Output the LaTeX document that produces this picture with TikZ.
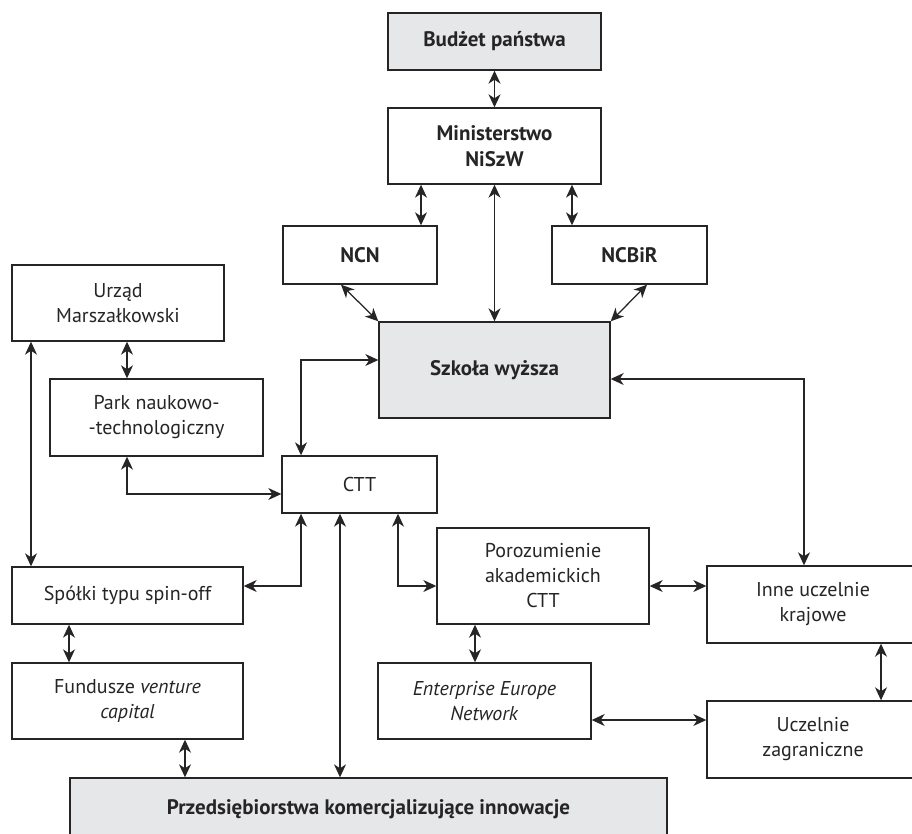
\documentclass[tikz,border=0pt]{standalone}
\usepackage{fontspec}
\setmainfont{PT Sans}
\usetikzlibrary{arrows.meta}
\definecolor{boxgray}{HTML}{E6E7E8}
\definecolor{ink}{HTML}{262425}
\begin{document}
\begin{tikzpicture}[x=1pt,y=-1pt,
  bx/.style={draw=ink,line width=1.4pt,inner sep=2pt,align=center,
    font=\fontsize{20}{25}\selectfont,text=ink},
  gbx/.style={bx,fill=boxgray},
  bold/.style={font=\fontsize{21}{26}\selectfont\bfseries},
  arr/.style={ink,line width=1.25pt,{Stealth[length=13pt,width=12pt,inset=4pt]}-{Stealth[length=13pt,width=12pt,inset=4pt]}}]
\clip (0,0) rectangle (912,834);
\fill[white] (0,0) rectangle (912,834);
\node[gbx,bold,minimum width=213pt,minimum height=57pt] (bud) at (494.5,41.5) {Budżet państwa};
\node[bx,bold,minimum width=213pt,minimum height=76pt] (min) at (494.5,146) {Ministerstwo\\NiSzW};
\node[bx,bold,minimum width=154pt,minimum height=58pt] (ncn) at (360,255) {NCN};
\node[bx,bold,minimum width=155pt,minimum height=58pt] (ncbir) at (629.5,255) {NCBiR};
\node[gbx,bold,minimum width=231pt,minimum height=96pt] (szk) at (494.5,370) {Szkoła wyższa};
\node[bx,minimum width=212pt,minimum height=76pt] (urz) at (118,303) {Urząd\\Marszałkowski};
\node[bx,minimum width=213pt,minimum height=77pt] (park) at (156.5,417.5) {Park naukowo-\\-technologiczny};
\node[bx,minimum width=155pt,minimum height=57pt] (ctt) at (359.5,484.5) {CTT};
\node[bx,minimum width=231pt,minimum height=57pt] (spin) at (127.5,595.5) {Spółki typu spin-off};
\node[bx,minimum width=212pt,minimum height=96pt] (poroz) at (543,576) {Porozumienie\\akademickich\\CTT};
\node[bx,minimum width=212pt,minimum height=77pt] (inne) at (813,604.5) {Inne uczelnie\\krajowe};
\node[bx,minimum width=231pt,minimum height=76pt] (fund) at (127.5,701) {Fundusze \textit{venture}\\\textit{capital}};
\node[bx,minimum width=213pt,minimum height=76pt] (ent) at (484.5,701) {\textit{Enterprise Europe}\\\textit{Network}};
\node[bx,minimum width=212pt,minimum height=77pt] (zagr) at (813,739.5) {Uczelnie\\zagraniczne};
\node[gbx,bold,minimum width=597pt,minimum height=62pt] (przed) at (368.5,809) {Przedsiębiorstwa komercjalizujące innowacje};
% connectors
\draw[arr] (bud.south) -- (min.north);
\draw[arr] (min.south -| 421,0) -- (ncn.north -| 421,0);
\draw[arr] (min.south -| 572,0) -- (ncbir.north -| 572,0);
\draw[arr] (min.south) -- (szk.north);
\draw[arr] (ncn.south -| 341,0) -- (szk.north west);
\draw[arr] (ncbir.south -| 647,0) -- (szk.north east);
\draw[arr] (szk.west |- 0,360) -| (ctt.north -| 301,0);
\draw[arr] (szk.east |- 0,379) -| (inne.north -| 804,0);
\draw[arr] (urz.south -| 127,0) -- (park.north -| 127,0);
\draw[arr] (urz.south -| 31,0) -- (spin.north -| 31,0);
\draw[arr] (park.south -| 127,0) |- (ctt.west |- 0,494);
\draw[arr] (ctt.south -| 301,0) |- (spin.east |- 0,586);
\draw[arr] (ctt.south -| 340,0) -- (przed.north -| 340,0);
\draw[arr] (ctt.south -| 398,0) |- (poroz.west |- 0,586);
\draw[arr] (poroz.east |- 0,586) -- (inne.west |- 0,586);
\draw[arr] (poroz.south -| 475,0) -- (ent.north -| 475,0);
\draw[arr] (spin.south -| 69,0) -- (fund.north -| 69,0);
\draw[arr] (fund.south -| 185,0) -- (przed.north -| 185,0);
\draw[arr] (ent.east |- 0,720) -- (zagr.west |- 0,720);
\draw[arr] (inne.south -| 881,0) -- (zagr.north -| 881,0);
\end{tikzpicture}
\end{document}
